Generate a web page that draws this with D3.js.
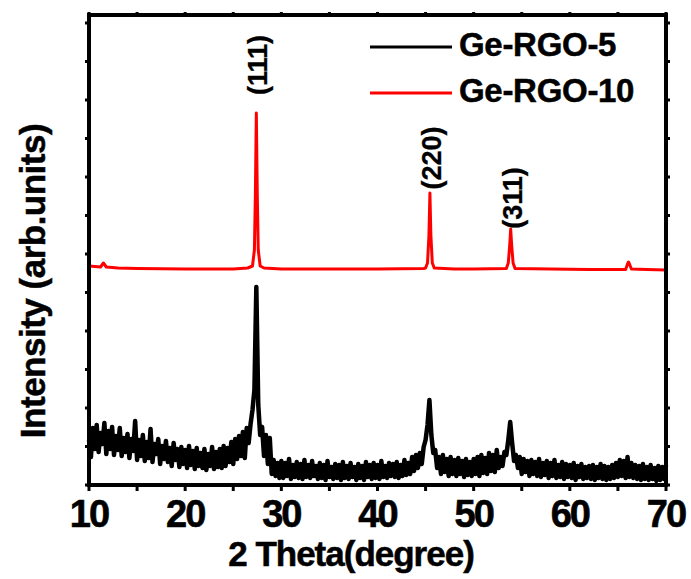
<!DOCTYPE html>
<html><head><meta charset="utf-8">
<script src="https://cdn.jsdelivr.net/npm/d3@7"></script>
<style>body{margin:0;background:#fff}svg{display:block}text{font-family:"Liberation Sans",Arial,sans-serif;font-weight:bold}</style>
</head><body><svg id="c" width="691" height="579"></svg>
<script>
// 2θ grid for Ge-RGO-5 (step 0.2°) and its intensities (arb. units)
const thetaStart = 10, thetaStep = 0.2;
const rgo5 = [
45,28,57,36,60,33,52,41,62,31,
54,36,58,30,49,35,57,29,47,33,
51,27,46,34,64,25,45,29,50,24,
43,27,56,23,41,31,46,21,39,26,
44,23,37,19,42,25,36,18,38,21,
35,17,39,20,34,16,37,19,32,17,
36,15,31,19,38,16,33,18,36,17,
39,19,37,23,43,21,46,26,49,29,
53,27,57,42,61,75,95,198,80,50,
58,29,50,21,47,11,25,9,22,7,
24,7,22,9,26,6,20,8,23,7,
21,6,25,8,20,7,24,9,19,6,
22,7,20,5,24,8,18,6,21,7,
20,5,23,7,19,6,22,8,18,5,
21,7,19,5,23,8,20,6,22,7,
20,6,24,8,19,7,22,9,21,8,
23,7,20,9,25,10,22,11,28,14,
30,17,32,21,38,45,60,85,50,32,
35,17,28,11,30,13,26,9,28,11,
25,9,27,11,24,8,26,10,23,9,
26,11,28,9,30,12,27,11,32,14,
30,13,35,17,28,19,33,30,45,63,
42,24,30,17,28,11,26,13,24,9,
25,11,23,9,26,8,22,10,24,7,
22,9,25,7,20,8,23,6,21,8,
20,7,22,5,19,8,21,6,18,7,
19,6,20,5,18,7,21,6,19,5,
18,6,20,7,22,8,25,9,24,7,
28,8,22,7,20,6,19,5,21,6,
18,5,20,6,17,4,19,5,18,6,
20];
const theta5 = rgo5.map((_, i) => +(thetaStart + i * thetaStep).toFixed(1));

// Ge-RGO-10 (offset trace)
const theta10 = [10,11.2,11.5,11.8,13,15,20,25,26.5,27.0,27.2,27.3,27.4,27.5,27.6,27.8,28.2,30,35,40,44.8,45.0,45.2,45.35,45.45,45.55,45.7,45.9,48,50,53.4,53.6,53.75,53.85,53.95,54.1,54.3,58,62,65.8,66.0,66.1,66.2,66.4,68,70];
const rgo10 = [219,218,222,218,217,216.5,216,216,217,219,235,290,372,290,235,219,217,216,216,216,216.5,217,222,250,292,250,222,217,216,216,216.5,222,240,256,240,222,216.5,216,215.5,215.5,221,223,221,216,215.5,215];

const seriesNames = ["Ge-RGO-5","Ge-RGO-10"];
const seriesColors = ["#000000","#ff0000"];
const xTicks = [10,20,30,40,50,60,70];
const peakLabels = ["(111)","(220)","(311)"];
const peakTheta = [27.4,45.45,53.85];
const peakLabelY = [420,327,287];

const svg = d3.select("#c");
const L=89,R=666,T=15,B=485;
const x = d3.scaleLinear().domain([10,70]).range([L,R]);
const y = d3.scaleLinear().domain([0,470]).range([B,T]);

// tick marks
const g = svg.append("g");
const xAll = d3.range(10,70.1,5);
const yAll = d3.range(0,470,38.5);
g.selectAll(".xb").data(xAll).join("line").attr("x1",d=>x(d)).attr("x2",d=>x(d)).attr("y1",B).attr("y2",B+6).attr("stroke","#000").attr("stroke-width",3);
g.selectAll(".xt").data(xAll).join("line").attr("x1",d=>x(d)).attr("x2",d=>x(d)).attr("y1",T).attr("y2",T-3).attr("stroke","#000").attr("stroke-width",3);
g.selectAll(".yl").data(yAll).join("line").attr("x1",L).attr("x2",L-4).attr("y1",d=>y(d)).attr("y2",d=>y(d)).attr("stroke","#000").attr("stroke-width",3);
g.selectAll(".yr").data(yAll).join("line").attr("x1",R).attr("x2",R+4).attr("y1",d=>y(d)).attr("y2",d=>y(d)).attr("stroke","#000").attr("stroke-width",3);

const line = d3.line().x(d=>x(d[0])).y(d=>y(d[1]));
svg.append("path").datum(theta5.map((t,i)=>[t,rgo5[i]])).attr("d",line).attr("fill","none").attr("stroke",seriesColors[0]).attr("stroke-width",4.5).attr("stroke-linejoin","round");
svg.append("path").datum(theta10.map((t,i)=>[t,rgo10[i]])).attr("d",line).attr("fill","none").attr("stroke",seriesColors[1]).attr("stroke-width",3).attr("stroke-linejoin","round");

// frame
svg.append("rect").attr("x",L).attr("y",T).attr("width",R-L).attr("height",B-T).attr("fill","none").attr("stroke","#000").attr("stroke-width",4);

// x tick labels
svg.selectAll(".xl").data(xTicks).join("text").attr("x",d=>x(d)).attr("y",527).attr("text-anchor","middle").attr("font-size",38).attr("letter-spacing",-2).attr("stroke","#000").attr("stroke-width",0.6).text(d=>d);

// axis titles
svg.append("text").attr("x",351).attr("y",566).attr("text-anchor","middle").attr("font-size",35).attr("letter-spacing",-1).attr("stroke","#000").attr("stroke-width",0.5).text("2 Theta(degree)");
svg.append("text").attr("transform","translate(45,281) rotate(-90)").attr("text-anchor","middle").attr("font-size",35).attr("letter-spacing",-0.5).attr("stroke","#000").attr("stroke-width",0.5).text("Intensity (arb.units)");

// peak labels
svg.selectAll(".pk").data(peakLabels).join("text")
 .attr("transform",(d,i)=>`translate(${x(peakTheta[i])+11},${y(peakLabelY[i])}) rotate(-90)`)
 .attr("text-anchor","middle").attr("font-size",27).attr("stroke","#000").attr("stroke-width",0.3).text(d=>d);

// legend
const lg = svg.append("g");
seriesNames.forEach((n,i)=>{
  const yy = 47 + i*46;
  lg.append("line").attr("x1",370).attr("x2",452).attr("y1",yy).attr("y2",yy).attr("stroke",seriesColors[i]).attr("stroke-width",3);
  lg.append("text").attr("x",459).attr("y",yy+9).attr("font-size",33).attr("letter-spacing",-0.3).attr("stroke","#000").attr("stroke-width",0.5).text(n);
});
</script></body></html>
